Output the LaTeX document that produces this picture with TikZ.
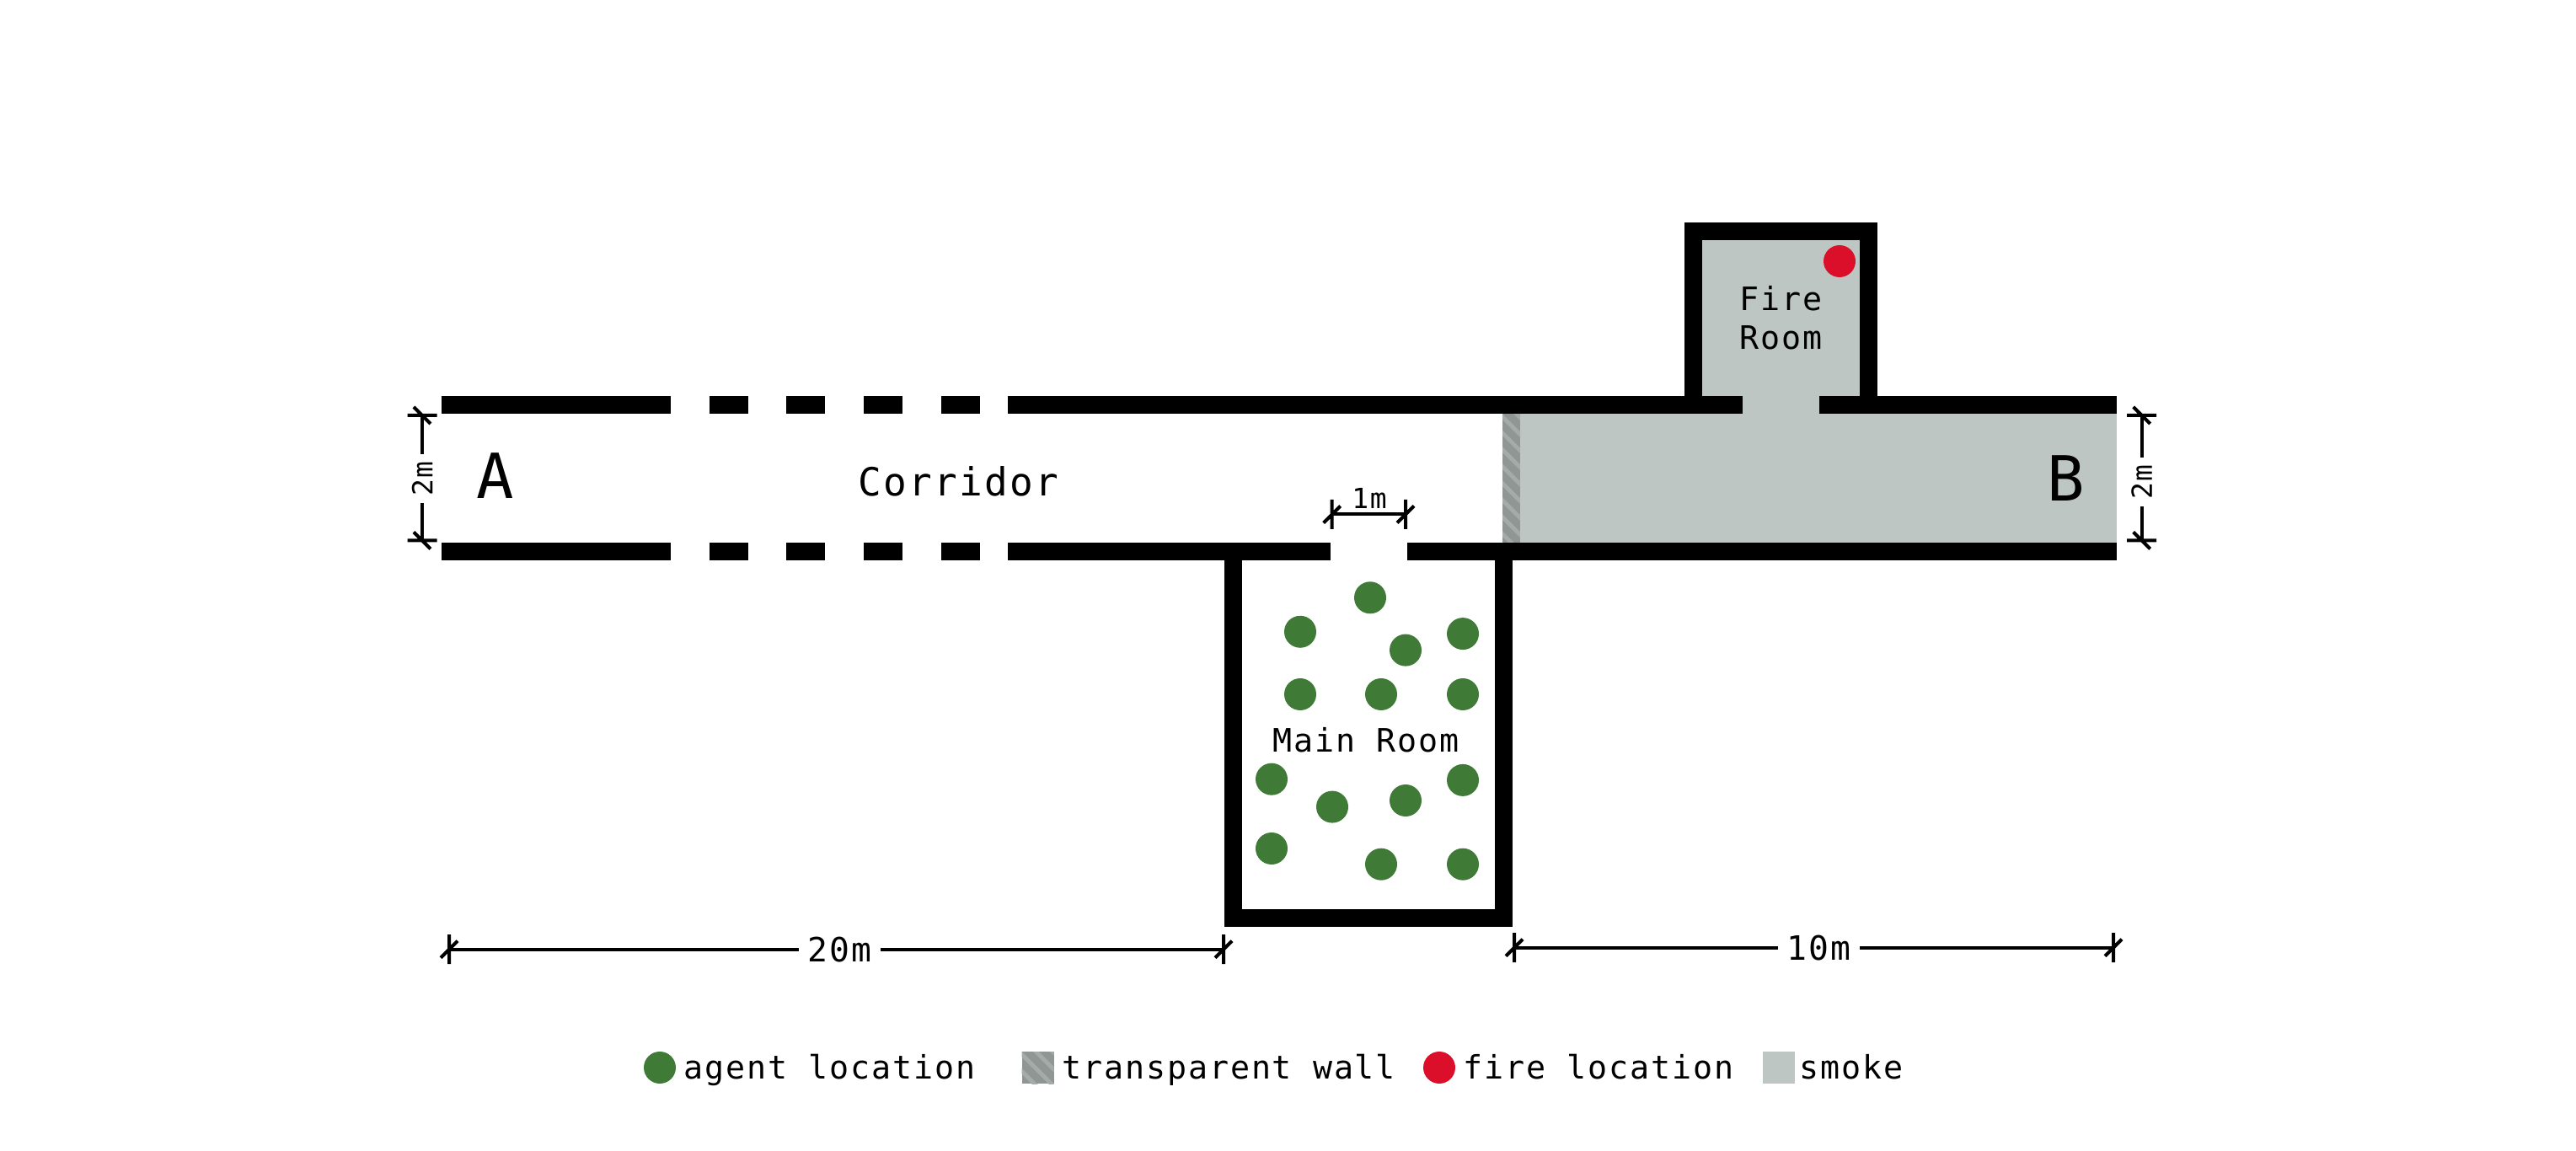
\documentclass[tikz,border=0pt]{standalone}
\usepackage{fontspec}
\usetikzlibrary{patterns.meta}
\setmainfont[LetterSpace=5]{DejaVu Sans Mono}
\definecolor{agentgreen}{HTML}{3F7A37}
\definecolor{firered}{HTML}{DC0F2B}
\definecolor{smokegray}{HTML}{BDC6C2}
\definecolor{glassgray}{HTML}{8F9694}
\definecolor{glassline}{HTML}{A5ABA8}
\tikzset{
    wall/.style={line width=0.21cm,line join=miter},
    dimline/.style={line width=0.04cm},
    agent/.style={circle,fill=agentgreen,minimum size=0.38cm,inner sep=0pt},
    fire/.style={circle,fill=firered,minimum size=0.38cm,inner sep=0pt},
    glass/.style={fill=glassgray,postaction={pattern={Lines[angle=-45,distance=0.14cm,line width=0.05cm]},pattern color=glassline}},
    roomlabel/.style={font=\fontsize{10.9}{13}\selectfont,anchor=base,inner sep=0pt,align=center},
    dimlabel/.style={font=\fontsize{11.3}{13}\selectfont,inner sep=0.1cm},
    endlabel/.style={font=\fontsize{21}{24}\selectfont,anchor=base,inner sep=0pt},
    legendlabel/.style={font=\fontsize{10.9}{13}\selectfont,anchor=base west,inner sep=0pt}
}
\begin{document}
\begin{tikzpicture}
    \useasboundingbox (0,0) rectangle (30.57,13.65);
    % smoke
    \fill[smokegray] (18.04,7.21) rectangle (25.12,8.74);
    \fill[smokegray] (20.68,8.74) rectangle (21.59,8.95);
    \fill[smokegray] (20.19,8.95) rectangle (22.08,10.8);
    \fill[glass] (17.83,7.21) rectangle (18.04,8.74);
    % walls
    \draw[wall] (5.235,8.845) -- (7.96,8.845);
    \draw[wall] (5.235,7.105) -- (7.96,7.105);
    \foreach \x in {8.42,9.33,10.25,11.17} {
        \draw[wall] (\x,8.845) -- ++(0.46,0);
        \draw[wall] (\x,7.105) -- ++(0.46,0);
    }
    \draw[wall] (11.96,8.845) -- (20.68,8.845);
    \draw[wall] (21.59,8.845) -- (25.12,8.845);
    \draw[wall] (11.96,7.105) -- (15.79,7.105);
    \draw[wall] (16.7,7.105) -- (25.12,7.105);
    \draw[wall] (14.635,7.0) -- (14.635,2.757) -- (17.845,2.757) -- (17.845,7.0);
    \draw[wall] (20.095,8.95) -- (20.095,10.905) -- (22.175,10.905) -- (22.175,8.95);
    % agents
    \foreach \x/\y [count=\i] in {16.26/6.557,15.43/6.152,16.68/5.934,17.36/6.129,15.43/5.41,16.39/5.41,17.36/5.41,
        15.09/4.403,17.36/4.391,16.68/4.15,15.81/4.074,15.09/3.58,16.39/3.393,17.36/3.393}
        \node[agent] (agent\i) at (\x,\y) {};
    \node[fire] (fire) at (21.83,10.55) {};
    % room labels
    \node[endlabel] (labA) at (5.875,7.73) {A};
    \node[endlabel] (labB) at (24.52,7.70) {B};
    \node[roomlabel,font=\fontsize{13.1}{15}\selectfont] (corridor) at (11.37,7.76) {Corridor};
    \node[roomlabel] (mainroom) at (16.21,4.72) {Main Room};
    \node[roomlabel] (fireroom) at (21.135,9.505) {Fire\\Room};
    % dimensions
    \coordinate (w1) at (5.01,8.72);
    \coordinate (w2) at (5.01,7.235);
    \node[dimlabel,rotate=90,font=\fontsize{9.4}{11}\selectfont,inner sep=0.08cm] (dimw) at (5.01,7.97) {2m};
    \coordinate (e1) at (25.417,8.72);
    \coordinate (e2) at (25.417,7.235);
    \node[dimlabel,rotate=90,font=\fontsize{9.4}{11}\selectfont,inner sep=0.08cm] (dime) at (25.417,7.93) {2m};
    \coordinate (d1) at (15.807,7.545);
    \coordinate (d2) at (16.68,7.545);
    \node[font=\fontsize{9.4}{11}\selectfont,inner sep=0pt,anchor=base] (dimdoor) at (16.25,7.61) {1m};
    \coordinate (s1) at (5.33,2.383);
    \coordinate (s2) at (14.52,2.383);
    \node[dimlabel] (dimleft) at (9.965,2.383) {20m};
    \coordinate (t1) at (17.97,2.403);
    \coordinate (t2) at (25.08,2.403);
    \node[dimlabel] (dimright) at (21.585,2.403) {10m};
    \draw[dimline] (w1) -- (dimw);
    \draw[dimline] (dimw) -- (w2);
    \draw[dimline] (e1) -- (dime);
    \draw[dimline] (dime) -- (e2);
    \draw[dimline] (d1) -- (d2);
    \draw[dimline] (s1) -- (dimleft);
    \draw[dimline] (dimleft) -- (s2);
    \draw[dimline] (t1) -- (dimright);
    \draw[dimline] (dimright) -- (t2);
    \foreach \c in {d1,d2,s1,s2,t1,t2}
        \draw[dimline] (\c) ++(0,0.175) -- ++(0,-0.35) (\c) ++(-0.1,-0.1) -- ++(0.2,0.2);
    \foreach \c in {w1,w2,e1,e2}
        \draw[dimline] (\c) ++(-0.175,0) -- ++(0.35,0) (\c) ++(-0.1,0.1) -- ++(0.2,-0.2);
    % legend
    \node[agent] (keyagent) at (7.83,0.98) {};
    \node[legendlabel] (keyagenttext) at (8.105,0.845) {agent location};
    \node[minimum size=0.38cm,inner sep=0pt,glass] (keyglass) at (12.315,0.98) {};
    \node[legendlabel] (keyglasstext) at (12.595,0.845) {transparent wall};
    \node[fire] (keyfire) at (17.08,0.98) {};
    \node[legendlabel] (keyfiretext) at (17.36,0.845) {fire location};
    \node[fill=smokegray,minimum size=0.38cm,inner sep=0pt] (keysmoke) at (21.11,0.98) {};
    \node[legendlabel] (keysmoketext) at (21.35,0.845) {smoke};
\end{tikzpicture}
\end{document}
